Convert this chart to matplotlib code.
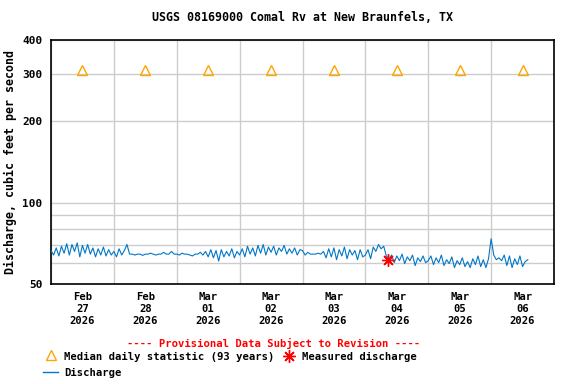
import matplotlib
matplotlib.use("Agg")
import matplotlib.pyplot as plt
import matplotlib.dates as mdates
from matplotlib.ticker import FixedLocator, NullFormatter
from matplotlib.lines import Line2D
import pandas as pd

plt.rcParams['font.family'] = ['DejaVu Sans Mono']
plt.rcParams['font.weight'] = 'bold'
FS = 7.6      # ticks, legend
FS_BIG = 8.4  # title, y label

# hourly discharge (cfs), one row per day starting at 00:00
feb27 = [66.5, 64, 68, 63.5, 69, 65, 70.5, 64, 70, 66, 71, 63, 69.5, 65, 70, 64.5, 68, 63, 67.5, 64, 68.5, 63.5, 67, 64]
feb28 = [66, 63, 67.5, 64, 66.5, 70, 64.5, 64.5, 64, 64.5, 64.5, 63.8, 64.5, 64.5, 65, 64.5, 64, 64.5, 64.5, 65.5, 64.5, 64.5, 66, 64.5]
mar01 = [64.5, 64, 65, 64.5, 64.5, 64, 63.5, 64.5, 64.5, 65.5, 64, 66, 63, 67, 62.5, 66.5, 60.8, 67, 63, 66, 63.5, 67.5, 62.5, 66]
mar02 = [64, 67.5, 63, 69, 64.5, 68, 63.5, 69.5, 65, 70, 64, 68.5, 65.5, 69, 64, 68, 66, 69.5, 64.5, 67.5, 65, 68, 64, 67]
mar03 = [66.5, 64, 65.5, 64.5, 64.5, 64.5, 65, 64.5, 66, 62.5, 67.5, 63, 68, 61.5, 67, 63.5, 68.5, 62, 67, 64, 66.5, 61.5, 67, 63]
mar04 = [64, 67, 62, 68.5, 66, 70, 67.5, 69, 63.5, 62, 64, 60, 63.5, 61, 64.5, 59.5, 63, 61, 64, 58.5, 62.5, 60.5, 63.5, 60]
mar05 = [61, 63.5, 59, 62.5, 60, 64, 58.5, 61.5, 59.5, 63, 57.5, 61, 59, 62.5, 58, 60.5, 57.5, 62, 59, 63.5, 58, 61.5, 57.5, 62]
mar06 = [73.5, 64, 61.5, 62.5, 61, 64, 58.5, 63.5, 57.5, 62, 59, 63.5, 58, 60.5, 61.5]
discharge = feb27 + feb28 + mar01 + mar02 + mar03 + mar04 + mar05 + mar06

median_days = ['2026-02-27', '2026-02-28', '2026-03-01', '2026-03-02',
               '2026-03-03', '2026-03-04', '2026-03-05', '2026-03-06']
median_vals = [311, 311, 311, 311, 311, 311, 311, 311]

measured_time = ['2026-03-04 08:45']
measured_vals = [61.5]

times = pd.date_range('2026-02-27 00:00', periods=len(discharge), freq='h')
median_t = pd.to_datetime(median_days) + pd.Timedelta(hours=12)

fig = plt.figure(figsize=(5.76, 3.84), dpi=100)
ax = fig.add_axes([51 / 576, 100 / 384, 503 / 576, 244 / 384])

ax.plot(times, discharge, color='#0077C8', lw=0.8, zorder=3)
ax.plot(median_t, median_vals, ls='none', marker='^', ms=7, mfc='none',
        mec='#FFA500', mew=1.0, zorder=4)
ax.plot(pd.to_datetime(measured_time), measured_vals, ls='none', marker=(8, 2, 0),
        ms=9, color='red', mew=1.0, zorder=5)

ax.set_yscale('log')
ax.set_ylim(50, 400)
ax.yaxis.set_major_locator(FixedLocator([50, 100, 200, 300, 400]))
ax.yaxis.set_major_formatter(matplotlib.ticker.FuncFormatter(lambda v, p: f"{v:g}"))
ax.yaxis.set_minor_locator(FixedLocator([60, 70, 80, 90]))
ax.yaxis.set_minor_formatter(NullFormatter())

ax.set_xlim(pd.Timestamp('2026-02-27'), pd.Timestamp('2026-03-07'))
ax.xaxis.set_major_locator(FixedLocator(mdates.date2num(median_t)))
ax.xaxis.set_major_formatter(mdates.DateFormatter('%b\n%d\n%Y'))
ax.xaxis.set_minor_locator(mdates.DayLocator())

ax.grid(True, axis='y', which='both', color='#cccccc', lw=1)
ax.grid(True, axis='x', which='minor', color='#cccccc', lw=1)
ax.grid(False, axis='x', which='major')
ax.tick_params(axis='both', which='both', length=0, labelsize=FS)
ax.tick_params(axis='y', labelsize=8.0)
ax.tick_params(axis='x', pad=6)
ax.tick_params(axis='y', pad=6)
for lab in ax.get_xticklabels():
    lab.set_linespacing(1.25)
    lab.set_fontweight('bold')
for s in ax.spines.values():
    s.set_linewidth(1.2)

ax.set_ylabel('Discharge, cubic feet per second', fontsize=FS_BIG, fontweight='bold', labelpad=4)
ax.set_title('USGS 08169000 Comal Rv at New Braunfels, TX', fontsize=FS_BIG,
             fontweight='bold', pad=14)

fig.text(273.5 / 576, 1 - 343 / 384, '---- Provisional Data Subject to Revision ----',
         color='red', fontsize=FS, fontweight='bold', ha='center', va='center')

# legend
fig.add_artist(Line2D([51 / 576], [1 - 355 / 384], marker='^', ms=7, mfc='none',
                      mec='#FFA500', mew=1.0, ls='none'))
fig.text(64 / 576, 1 - 357 / 384, 'Median daily statistic (93 years)', fontsize=FS,
         fontweight='bold', va='center')
fig.add_artist(Line2D([289 / 576], [1 - 356 / 384], marker=(8, 2, 0), ms=9,
                      color='red', mew=1.0, ls='none'))
fig.text(302 / 576, 1 - 357 / 384, 'Measured discharge', fontsize=FS,
         fontweight='bold', va='center')
fig.add_artist(Line2D([43 / 576, 58 / 576], [1 - 372 / 384, 1 - 372 / 384],
                      color='#0077C8', lw=1))
fig.text(64 / 576, 1 - 373 / 384, 'Discharge', fontsize=FS, fontweight='bold', va='center')

fig.savefig('out.png', dpi=100)
